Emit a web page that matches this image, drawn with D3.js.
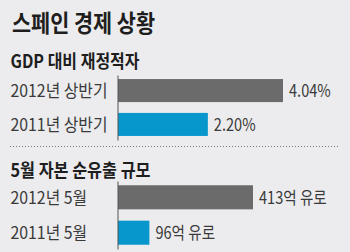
<!DOCTYPE html>
<html>
<head>
<meta charset="utf-8">
<script src="https://cdn.jsdelivr.net/npm/d3@7"></script>
<style>
  body { margin: 0; background: #ececee; }
  text { font-family: "Noto Sans CJK KR", sans-serif; }
</style>
</head>
<body>
<div id="chart"></div>
<script>
const title = "스페인 경제 상황";
const sectionTitles = ["GDP 대비 재정적자", "5월 자본 순유출 규모"];
const deficitLabels = ["2012년 상반기", "2011년 상반기"];
const deficitValues = [4.04, 2.20];
const deficitText = ["4.04%", "2.20%"];
const outflowLabels = ["2012년 5월", "2011년 5월"];
const outflowValues = [413, 96];
const outflowText = ["413억 유로", "96억 유로"];
const barColors = ["#6b6b6b", "#0897cc"];

const width = 350, height = 252;
const axisX = 118;

// squeeze text horizontally to mimic the condensed newspaper face
function squeeze(sel, w) {
  sel.attr("textLength", w).attr("lengthAdjust", "spacingAndGlyphs");
}

const svg = d3.select("#chart")
  .append("svg")
  .attr("width", width)
  .attr("height", height);

svg.append("rect")
  .attr("width", width)
  .attr("height", height)
  .attr("fill", "#ececee");

svg.append("text")
  .attr("x", 12)
  .attr("y", 32)
  .attr("font-size", 24)
  .attr("font-weight", 700)
  .attr("fill", "#1e1e1e")
  .text(title)
  .call(squeeze, 143);

// one block per section
const sections = [
  { name: sectionTitles[0], labels: deficitLabels, values: deficitValues, text: deficitText,
    titleY: 67.5, titleW: 129, range: [75, 140], maxX: 283 },
  { name: sectionTitles[1], labels: outflowLabels, values: outflowValues, text: outflowText,
    titleY: 176.5, titleW: 140, range: [181, 249], maxX: 253 }
];

let k = null; // condense ratio for labels, from the widest label

sections.forEach((s) => {
  const x = d3.scaleLinear().domain([0, d3.max(s.values)]).range([axisX, s.maxX]);
  const y = d3.scaleBand().domain(s.labels).range(s.range)
    .paddingInner(0.32).paddingOuter(0.12);

  svg.append("text")
    .attr("x", 10.5)
    .attr("y", s.titleY)
    .attr("font-size", 18)
    .attr("font-weight", 700)
    .attr("fill", "#1e1e1e")
    .text(s.name)
    .call(squeeze, s.titleW);

  const g = svg.append("g");

  g.selectAll(".bar")
    .data(s.values)
    .enter()
    .append("rect")
      .attr("class", "bar")
      .attr("x", axisX)
      .attr("y", (d, i) => y(s.labels[i]))
      .attr("width", d => x(d) - axisX)
      .attr("height", y.bandwidth())
      .attr("fill", (d, i) => barColors[i]);

  const labels = g.selectAll(".label")
    .data(s.labels)
    .enter()
    .append("text")
      .attr("class", "label")
      .attr("x", 10.5)
      .attr("y", d => y(d) + y.bandwidth() / 2)
      .attr("dy", "0.36em")
      .attr("font-size", 17.5)
      .attr("fill", "#3a3a3a")
      .text(d => d);

  if (k === null) k = 97 / labels.node().getComputedTextLength();

  const values = g.selectAll(".value")
    .data(s.values)
    .enter()
    .append("text")
      .attr("class", "value")
      .attr("x", d => x(d) + 6)
      .attr("y", (d, i) => y(s.labels[i]) + y.bandwidth() / 2)
      .attr("dy", "0.36em")
      .attr("font-size", 17.5)
      .attr("fill", "#3a3a3a")
      .text((d, i) => s.text[i]);

  labels.each(function () {
    d3.select(this).call(squeeze, this.getComputedTextLength() * k);
  });
  // value labels run a touch narrower
  values.each(function () {
    d3.select(this).call(squeeze, this.getComputedTextLength() * k * 0.92);
  });

  // axis line only
  g.append("g")
    .attr("transform", `translate(${axisX - 0.5},0)`)
    .call(d3.axisLeft(y).tickSize(0).tickFormat(""))
    .call(a => a.select(".domain").attr("stroke", "#555"));
});

// dotted separator
svg.append("line")
  .attr("x1", 10).attr("x2", 338)
  .attr("y1", 146.5).attr("y2", 146.5)
  .attr("stroke", "#777")
  .attr("stroke-width", 1)
  .attr("stroke-dasharray", "1,2");
</script>
</body>
</html>
